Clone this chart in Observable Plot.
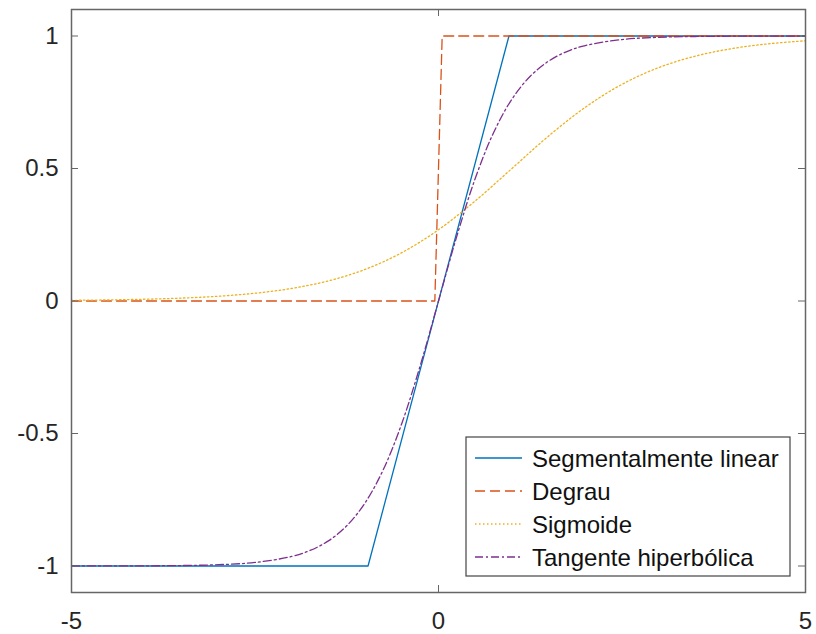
<!DOCTYPE html>
<html><head><meta charset="utf-8">
<script src="https://cdn.jsdelivr.net/npm/d3@7"></script>
<script src="https://cdn.jsdelivr.net/npm/@observablehq/plot@0.6"></script>
<style>body{margin:0;background:#fff}</style>
</head><body><div id="chart"></div>
<script>
// ---- data ----
const xTicks = [-5, 0, 5];
const yTicks = [-1, -0.5, 0, 0.5, 1];

const seriesNames = ["Segmentalmente linear", "Degrau", "Sigmoide", "Tangente hiperbólica"];
const seriesColors = ["#0072BD", "#D95319", "#EDB120", "#7E2F8E"];
const seriesDash = [null, "10,5", "1.5,2.5", "8,3,2,3"];

const xLinear = [-5, -0.96, 0.96, 5];
const yLinear = [-1, -1, 1, 1];

const xStep = [-5, -0.05, 0.05, 5];
const yStep = [0, 0, 1, 1];

const xSig = [-5, -4.5, -4, -3.5, -3, -2.5, -2, -1.5, -1, -0.5, 0, 0.5, 1, 1.5, 2, 2.5, 3, 3.5, 4, 4.5, 5];
const ySig = [0.0025, 0.0041, 0.0067, 0.011, 0.018, 0.0293, 0.0474, 0.0759, 0.1192, 0.1824, 0.2689, 0.3775, 0.5, 0.6225, 0.7311, 0.8176, 0.8808, 0.9241, 0.9526, 0.9707, 0.982];

const xTanh = [-5, -4.5, -4, -3.5, -3, -2.5, -2, -1.75, -1.5, -1.25, -1, -0.75, -0.5, -0.25, 0, 0.25, 0.5, 0.75, 1, 1.25, 1.5, 1.75, 2, 2.5, 3, 3.5, 4, 4.5, 5];
const yTanh = [-0.9999, -0.9998, -0.9993, -0.9982, -0.9951, -0.9866, -0.964, -0.9414, -0.9051, -0.8483, -0.7616, -0.6351, -0.4621, -0.2449, 0, 0.2449, 0.4621, 0.6351, 0.7616, 0.8483, 0.9051, 0.9414, 0.964, 0.9866, 0.9951, 0.9982, 0.9993, 0.9998, 0.9999];

// ---- layout ----
const W = 816, H = 634;
const mL = 71, mR = 11, mT = 9, mB = 42;
const pw = W - mL - mR, ph = H - mT - mB;
const tickLen = 7;
const frameColor = "#666";
const textColor = "#262626";

const pts = (xs, ys) => xs.map((x, i) => ({x, y: ys[i]}));
const series = [pts(xLinear, yLinear), pts(xStep, yStep), pts(xSig, ySig), pts(xTanh, yTanh)];
const curves = ["linear", "linear", "catmull-rom", "catmull-rom"];

const lineMarks = series.map((d, i) => Plot.line(d, {
  x: "x", y: "y", stroke: seriesColors[i], strokeWidth: 1.3,
  strokeDasharray: seriesDash[i] || undefined, curve: curves[i]
}));

const chart = Plot.plot({
  width: W, height: H,
  marginLeft: mL, marginRight: mR, marginTop: mT, marginBottom: mB,
  style: {fontFamily: "'Liberation Sans', Arial, sans-serif", fontSize: "24px", background: "white", color: textColor},
  x: {domain: [-5, 5], label: null},
  y: {domain: [-1.1, 1.1], label: null},
  marks: [
    ...lineMarks,
    Plot.frame({stroke: frameColor, strokeWidth: 1.5}),
    Plot.tickX(xTicks, {x: d => d, insetTop: ph - tickLen, stroke: frameColor}),
    Plot.tickX(xTicks, {x: d => d, insetBottom: ph - tickLen, stroke: frameColor}),
    Plot.tickY(yTicks, {y: d => d, insetRight: pw - tickLen, stroke: frameColor}),
    Plot.tickY(yTicks, {y: d => d, insetLeft: pw - tickLen, stroke: frameColor}),
    Plot.axisX(xTicks, {tickSize: 0, tickPadding: 19, tickFormat: d => String(d), fontSize: 24, fill: textColor, label: null}),
    Plot.axisY(yTicks, {tickSize: 0, tickPadding: 13, tickFormat: d => String(d), fontSize: 24, fill: textColor, label: null})
  ]
});

// ---- legend (inside plot, bottom-right) ----
const svg = d3.select(chart);
const bw = 324, bh = 139;
const bx = W - mR - 15 - bw, by = H - mB - 16 - bh;
const g = svg.append("g").attr("text-anchor", "start");
g.append("rect").attr("x", bx).attr("y", by).attr("width", bw).attr("height", bh)
  .attr("fill", "white").attr("stroke", "#444").attr("stroke-width", 1.2);
seriesNames.forEach((name, i) => {
  const yy = by + 21 + i * 33;
  g.append("line").attr("x1", bx + 9).attr("x2", bx + 56).attr("y1", yy).attr("y2", yy)
    .attr("stroke", seriesColors[i]).attr("stroke-width", 1.3)
    .attr("stroke-dasharray", seriesDash[i]);
  g.append("text").attr("x", bx + 66).attr("y", yy + 8.5)
    .attr("text-anchor", "start")
    .attr("font-size", 24).attr("fill", "#111")
    .attr("font-family", "'Liberation Sans', Arial, sans-serif").text(name);
});

document.getElementById("chart").append(chart);
</script></body></html>
